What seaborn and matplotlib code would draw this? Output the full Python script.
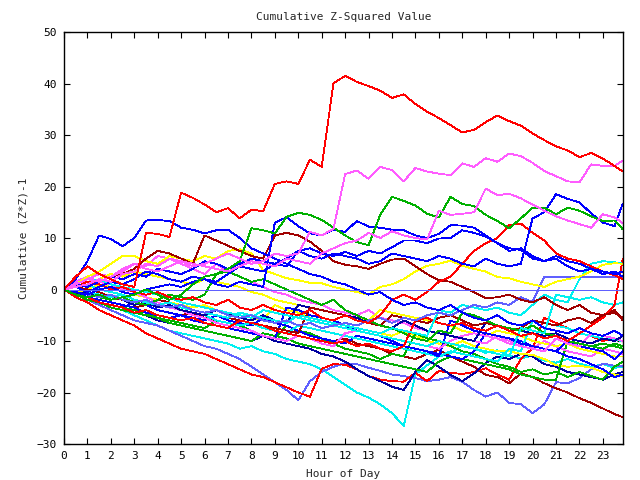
import numpy as np
import pandas as pd
import matplotlib
matplotlib.use("Agg")
import matplotlib.pyplot as plt
import seaborn as sns

# sampling grid (hours), half-hour steps up to the end of the day
hours = list(np.arange(0, 23.51, 0.5)) + [23.85]

red_big = [0, 2.5, 4.5, 3, 2, 1, 0.5, 11, 10.8, 10.2,
           18.8, 17.8, 16.5, 15, 15.8, 13.8, 15.5, 15.2, 20.5, 21,
           20.5, 25.2, 23.8, 40, 41.5, 40.3, 39.5, 38.6, 37.2, 37.9,
           36, 34.5, 33.3, 31.9, 30.5, 31, 32.5, 33.8, 32.7, 31.8,
           30.3, 29, 27.8, 27, 25.7, 26.5, 25.4, 24, 22.9]
magenta_top = [0, 0.5, 1, 2, 1.5, 3, 3.5, 5, 4.5, 6,
               5.5, 4.5, 5, 6, 7, 6, 5, 5.5, 7, 6.5,
               7, 11.2, 10.5, 11.8, 22.4, 23.1, 21.5, 23.8, 23.2, 21,
               23.6, 22.9, 22.5, 22.2, 24.5, 23.8, 25.5, 24.8, 26.4, 25.9,
               24.6, 23, 22, 21, 20.8, 24.3, 24, 24, 25]
magenta_mid = [0, 1, 2, 1.5, 2.5, 3.5, 5, 4, 3.5, 4.5,
               5.5, 5, 4.5, 4, 3.5, 4.5, 5.5, 5, 4.5, 6,
               5.5, 5, 7, 8, 9, 9.5, 11, 10, 11.3, 10.5,
               10, 9.7, 15.3, 14.5, 14.7, 15, 19.6, 18.3, 18.6, 17.7,
               16.5, 15.3, 14.2, 13.4, 12.7, 12, 14.6, 14, 12.9]
green_top = [0, -1, -1.5, -1, -2, -1.5, -1, 0, -1, -2,
             -1, 1, 2.5, 3, 4, 5.5, 11.9, 11.5, 10.9, 14.1,
             14.9, 14.5, 13.5, 12, 10.5, 9.2, 8.6, 14.5, 18, 17.2,
             16.3, 14.7, 14, 18, 16.6, 16.2, 14.5, 13.3, 11.9, 13.8,
             15.9, 15.9, 14.6, 15.9, 15.3, 14.2, 13.3, 13.4, 11.7]
blue_early = [0, 2, 5.5, 10.5, 9.8, 8.4, 10, 13.4, 13.5, 13.3,
              12, 11.6, 10.9, 11.5, 11.6, 10, 8, 7, 6, 5,
              4, 3, 2.5, 1.5, 1, 0, -1, -0.5, -2, -3,
              -2.5, -3.5, -4, -3, -4.5, -5.5, -6, -5, -6.5, -7,
              -6, -7.5, -8, -8.5, -7.5, -8.5, -9, -8, -9]
blue_noon = [0, -0.5, -1, 0, 0.5, -0.5, -1, 0, 0.5, 1,
             0.5, 1.5, 2, 1, 0.5, 1.5, 1, 0.5, 13, 14,
             12.3, 10.9, 10.5, 11.6, 11.2, 13.3, 12.2, 12, 11.6, 11.5,
             10.5, 10, 10.8, 12.5, 12.4, 12, 10.5, 9, 7.5, 8,
             6.5, 5.5, 6, 4.5, 3.5, 4, 3, 3.5, 2.5]
blue_late = [0, 1, 0.5, 1.5, 2.5, 2, 3, 2.5, 4, 3.5,
             3, 4, 5.5, 5, 4, 5, 6, 5.5, 5, 6,
             7.5, 6.5, 6, 7, 6.5, 6, 5, 5.5, 7, 6.5,
             6, 5.5, 6.5, 6, 5, 4.5, 6, 5, 4.5, 5,
             13.8, 15, 18.5, 17.6, 16.9, 14.8, 13, 12.3, 16.7]
darkred_up = [0, 1, 2, 1.5, 2.5, 3, 4, 6, 7.5, 7,
              6, 5, 10.5, 9.5, 8.5, 7.5, 6.5, 6, 10.5, 11,
              10.5, 9.3, 7.5, 5.5, 4.8, 4.5, 4, 5, 5.8, 6,
              4.5, 3, 1.8, 1.5, 0.5, -0.5, -1.7, -1.5, -1, -2,
              -2.5, -1.5, -3, -4, -3, -4.5, -5, -4.5, -5.5]
yellow_up = [0, 1, 2.5, 3.5, 5, 6.5, 6.5, 5.5, 5, 6.5,
             6, 5.5, 6.5, 6, 7.5, 7.8, 7, 3.8, 3, 2.2,
             1.8, 1.3, 1.2, 0.5, 0, -0.5, -1, 0.5, 1, 2,
             3.5, 4.6, 5, 5.6, 4.6, 4, 3.5, 2.4, 2.2, 1.5,
             1, 0.5, 1.5, 2, 2.5, 3.5, 4.8, 5.1, 5]
slate_flat = [0, 0, 0, 0, 0, 0, 0, 0, 0, 0,
              0, 0, 0, 0, 0, 0, 0, 0, 0, 0,
              0, 0, 0, 0, 0, 0, 0, 0, 0, 0,
              0, 0, 0, 0, 0, 0, 0, 0, 0, 0,
              0, 0, 0, 0, 0, 0, 0, 0, 0]
slate_step = [0, -0.5, -1, -1.5, -1, -2, -2.5, -2, -3, -3.5,
              -3, -4, -4.5, -4, -5, -5.5, -5, -6, -6.5, -6,
              -7, -6.5, -7.5, -7, -6.5, -7, -6, -5.5, -6.5, -5.5,
              -6, -5, -4.5, -5, -4, -3, -3.5, -2.5, -3, -1.5,
              -2.4, 2.5, 2.5, 2.5, 2.5, 2.5, 2.5, 2.5, 2.5]
cyan_low = [0, -1, -2, -2.5, -3.5, -4, -5, -6, -7, -8,
            -8.5, -9, -9.5, -10, -10.5, -11.5, -11, -12, -12.5, -13.5,
            -14, -14.5, -15.5, -17, -18.5, -20, -21, -22.3, -24, -26.5,
            -16.5, -14.7, -13, -12.4, -10.8, -11.5, -12.3, -11.8, -12.8, -13.4,
            -12.8, -13.8, -14.2, -13.5, -14.4, -15, -14.5, -15.2, -15]
slate_low = [0, -1, -2, -3, -4, -5, -6, -6.5, -7, -8,
             -9, -10, -11, -11.5, -12.5, -13.5, -15, -16.5, -18, -19.5,
             -21.5, -17.8, -16, -15, -14.3, -14.5, -15.2, -15.8, -16.5, -16.8,
             -17.2, -17.8, -17.5, -17, -17.9, -19.5, -20.8, -20, -22, -22.3,
             -24, -22.3, -18, -18.2, -17.2, -15.5, -14.4, -14.8, -14.9]
darkred_low = [0, -0.5, -1.5, -2, -2.5, -3, -3.5, -3, -4, -4.5,
               -5, -4.5, -5.5, -6, -6.5, -7, -6.5, -7.5, -8, -8.5,
               -8, -9, -9.5, -10, -9.5, -10.5, -11, -11.5, -12.5, -13,
               -13.5, -12.5, -11.7, -13, -14, -15, -16.6, -17, -18.2, -16.3,
               -17, -18.2, -19.2, -20, -21.1, -22, -23.1, -24.2, -24.8]
red_low = [0, -1.5, -2.5, -4, -5, -6, -7, -8.5, -9.5, -10.5,
           -11.5, -12, -12.5, -13.5, -14.5, -15.5, -16.5, -17, -18, -19,
           -20, -20.8, -15.4, -14.5, -14.6, -15.5, -16.8, -17.5, -17.8, -17.9,
           -16.2, -17.8, -15.8, -16.2, -16.4, -16, -15.3, -16.5, -17.5, -13.5,
           -11.4, -5.5, -6.5, -7.5, -8.5, -9, -10, -9.5, -10]
red_endjump = [0, -1, -1.5, -2.5, -3, -3.5, -4.5, -4, -5, -5.5,
               -6, -5.5, -6.5, -7, -7.5, -6, -6.5, -7, -8, -8.5,
               -9, -9.5, -10, -10.5, -10, -11, -10.5, -11.5, -12, -11,
               -6, -5.5, -6.5, -7, -6.5, -7.5, -8, -7, -8, -9,
               -8.5, -9.5, -9, -10, -8.5, -7, -5.5, -3, 6]
red_evening = [0, 0.5, 1.5, 1, 0, 0.5, -0.5, -1, -0.5, -1.5,
               -2, -1.5, -2.5, -3, -2, -3.5, -4, -3, -4, -4.5,
               -5, -4, -5.5, -6, -5, -6, -6.5, -5, -2, -1,
               -2, -0.5, 1.5, 2.5, 5, 7.5, 9, 10, 12.5, 12.8,
               11, 9.5, 7, 6, 5.5, 4.5, 3.5, 2.8, 2]
blue_mid = [0, 0.5, -0.5, 0.5, 1.5, 1, 2, 3.5, 3, 2,
            1.5, 2.5, 2, 1.5, 3, 4.5, 4, 3.5, 5, 4.5,
            7.5, 8, 7, 6.5, 7.3, 6.5, 7.5, 7, 8.2, 9.5,
            9.5, 9, 9.9, 10, 11.5, 11, 10.3, 9, 8, 7.7,
            6, 5.5, 6.5, 5.5, 5, 4, 3.5, 3, 3.5]
green_low = [0, -1, -1.5, -2.5, -3, -3.5, -4, -4.5, -5.5, -6,
             -6.5, -7, -7.5, -6, -6.5, -7, -8, -9, -9.5, -7,
             -8, -8.5, -9.5, -10.5, -11.5, -12, -12.5, -13.5, -12.5, -13,
             -8.5, -9.5, -10, -11, -12, -12.5, -13.5, -14.5, -15, -16,
             -15.5, -16.5, -16, -17, -16, -16.8, -17.5, -15, -14]
green_mid = [0, -0.5, -1, -1.5, -2, -1.5, -2.5, -3, -2, -1,
             -1.5, -2, -1, 3, 3.5, 2.5, 1.5, 2, 1, 0,
             -1, -2, -3, -2, -4, -5, -6, -7, -7.5, -8.5,
             -9.5, -10, -8, -8.5, -4.5, -5, -6, -7, -7.5, -8,
             -7, -8.5, -9, -10, -10.5, -11, -11.5, -10.5, -11]
cyan_mid = [0, 0.5, 1, 0, -0.5, -1, -2, -2.5, -3, -3.5,
            -4, -4.5, -5, -6, -6.5, -7, -6.5, -7.5, -8, -8.5,
            -7, -7.5, -8, -8.5, -9, -9.5, -10, -10.5, -11, -11.5,
            -12, -12.5, -13, -12, -12.5, -13, -13.5, -14, -11.5, -12,
            -6, -6.5, -7, -7.5, -8.5, -9, -9.5, -9.8, -10]
cyan_up = [0, 0.5, -0.5, -1, -1.5, -1, -2, -2.5, -3, -2.5,
           -3.5, -4, -4.5, -5, -5.5, -4.5, -5, -5.5, -6, -6.5,
           -5, -5.5, -6, -6.5, -7, -7.5, -8, -8.5, -7.5, -8,
           -8.5, -9, -4, -4.5, -3, -3.5, -4, -3.5, -4.5, -5,
           -3, -1, -2, -2.5, 2, 5, 5.5, 5.3, 5]
magenta_low = [0, 1.5, 2.5, 1.5, 1, 0, -0.5, -1.5, -2.5, -3.5,
               -4, -5, -5.5, -6.5, -7, -7.5, -8, -9, -9.5, -10,
               -9, -9.5, -10.5, -11, -8.5, -8, -8.5, -9, -9.5, -10,
               -10.5, -11, -11.5, -10, -9, -8.5, -9, -9.5, -10.5, -11,
               -11.5, -12, -9.5, -10.5, -11, -8.5, -9, -9.5, -10]
navy_low = [0, -1, -2, -2.5, -3.5, -4, -4.5, -5, -6, -6.5,
            -7, -7.5, -8, -8.5, -9, -9.5, -10, -9, -10, -10.5,
            -11, -11.5, -12.5, -13, -14, -15.5, -16.8, -17.8, -18.9, -19.5,
            -16, -13.7, -15, -16.6, -17.8, -16.3, -14.3, -13, -13.5, -12.5,
            -13, -14.5, -15, -16, -16.5, -17, -17.5, -16.5, -16]
yellow_low = [0, -0.5, 0, 1, 0.5, -0.5, -1, -1.5, -2, -2.5,
              -3, -3.5, -3, -4, -4.5, -5, -5.5, -6, -3, -4,
              -4.5, -5.5, -6, -6.5, -7, -7.5, -8, -8.5, -9, -8,
              -9, -10, -10.5, -11, -10, -11, -11.5, -12, -12, -12.5,
              -12.7, -13.5, -14.7, -15, -14.8, -15.2, -16, -16.5, -16.9]
magenta_early = [0, 1, 2, 3, 2.5, 4, 5, 4.5, 6.5, 6,
                 5, 4, 3, 5, 3.5, 2.5, 1.5, 0.5, -0.5, -1,
                 -2, -2.5, -3, -4, -4.5, -5, -4, -5.5, -6, -6.5,
                 -7.5, -8, -8.5, -9, -9.5, -10, -10.5, -9, -10, -11,
                 -11.5, -10, -11, -12, -12.5, -13, -11.5, -12, -12.5]
blue_low = [0, -0.5, -1.5, -2.5, -3, -3.5, -2.5, -3, -4, -4.5,
            -5, -5.5, -6, -5, -6, -6.5, -7, -5.5, -6.5, -7,
            -8, -9, -9.5, -10, -10.5, -9, -9.5, -10, -10.5, -11,
            -11.5, -12, -12.5, -13, -13.5, -12, -8.5, -9, -9.5, -10,
            -11, -11.5, -12, -13, -13.5, -14.5, -15.5, -17, -16.5]
navy_mid = [0, -1, -0.5, -1.5, -1, -2, -3, -2.5, -3.5, -3,
            -4, -4.5, -5, -4, -4.5, -5.5, -6, -5, -6, -6.5,
            -3, -3.5, -4, -4.5, -5, -5.5, -6.5, -7, -7.5, -6,
            -7, -8, -8.5, -9, -9.5, -10, -6.5, -7, -7.5, -8,
            -8.5, -9, -8.5, -9.5, -10, -10.5, -9.5, -10, -9]
darkred_mid = [0, 0.5, 0, -0.5, -1.5, -2, -2.5, -3, -2, -2.5,
               -3.5, -4, -4.5, -5, -5.5, -6, -6.5, -7, -7.5, -8,
               -8.5, -3.5, -4, -4.5, -5, -6, -6.5, -7, -5, -5.5,
               -6, -6.5, -5.5, -5, -6, -7, -6.5, -7, -8, -7.5,
               -6, -6.5, -7, -6, -5.5, -6.5, -5, -4, -6]
green_lower = [0, -1, -2, -2.5, -3.5, -4, -4.5, -5, -5.5, -6.5,
               -7, -7.5, -8, -8.5, -9, -9.5, -10, -8.5, -9, -9.5,
               -10.5, -11, -11.5, -12, -12.5, -13, -13.5, -14, -14.5, -15,
               -15.5, -16, -14, -13, -13.5, -14, -14.5, -15, -15.5, -16.5,
               -17, -17.5, -17.5, -10, -10.5, -11, -10.5, -11, -11.5]
cyan_jump = [0, 0.5, 1.5, 2, 1, 0.5, 0, -0.5, -1, -1.5,
             -2.5, -3, -3.5, -4, -4.5, -5, -5.5, -4, -4.5, -5,
             -5.5, -6, -6.5, -7, -7.5, -8, -8.5, -9, -9.5, -10,
             -10.5, -11, -10, -10.5, -11, -11.5, -12, -12.5, -13, -7.5,
             -8, -8.5, -1, -1.5, -2, -1.5, -2.5, -3, -2.5]
yellow_mid = [0, 0.5, 1, 2, 3, 2.5, 3.5, 3, 2.5, 2,
              1.5, 1, 2, 1.5, 1, 0.5, -0.5, -1, -2, -2.5,
              -3, -3.5, -4, -4.5, -5, -5.5, -6, -4, -4.5, -5,
              -5.5, -6, -6.5, -7, -8, -8.5, -9, -8, -8.5, -9,
              -10, -10.5, -11, -10.5, -11.5, -12, -12.5, -13, -13]
blue_lower = [0, -1, -1.5, -2, -2.5, -3, -3.5, -4.5, -5, -5.5,
              -5, -6, -6.5, -7, -7.5, -8, -8.5, -9, -9.5, -3.5,
              -4, -5, -5.5, -6, -7, -8, -8.5, -9, -10, -11,
              -11.5, -12, -13, -6, -7, -8, -8.5, -9, -9.5, -10.5,
              -11, -11.5, -12, -10, -11, -11.5, -12, -13.5, -12]

RED, GREEN, BLUE = "#ff0000", "#00b000", "#0000ff"
MAGENTA, CYAN, YELLOW = "#ff5cff", "#00f0f0", "#ffff00"
DARKRED, SLATE, NAVY = "#a00000", "#6060ff", "#0000a0"

series = [
    ("cyan_low", cyan_low, CYAN), ("slate_low", slate_low, SLATE),
    ("darkred_low", darkred_low, DARKRED), ("red_low", red_low, RED),
    ("navy_low", navy_low, NAVY), ("yellow_low", yellow_low, YELLOW),
    ("green_low", green_low, GREEN), ("green_lower", green_lower, GREEN),
    ("blue_low", blue_low, BLUE), ("magenta_early", magenta_early, MAGENTA),
    ("yellow_mid", yellow_mid, YELLOW), ("cyan_mid", cyan_mid, CYAN),
    ("blue_lower", blue_lower, BLUE), ("magenta_low", magenta_low, MAGENTA),
    ("navy_mid", navy_mid, NAVY), ("darkred_mid", darkred_mid, DARKRED),
    ("green_mid", green_mid, GREEN), ("cyan_jump", cyan_jump, CYAN),
    ("red_endjump", red_endjump, RED), ("cyan_up", cyan_up, CYAN),
    ("slate_step", slate_step, SLATE), ("yellow_up", yellow_up, YELLOW),
    ("darkred_up", darkred_up, DARKRED), ("red_evening", red_evening, RED),
    ("blue_mid", blue_mid, BLUE), ("blue_early", blue_early, BLUE),
    ("blue_noon", blue_noon, BLUE), ("blue_late", blue_late, BLUE),
    ("slate_flat", slate_flat, SLATE), ("green_top", green_top, GREEN),
    ("magenta_mid", magenta_mid, MAGENTA), ("magenta_top", magenta_top, MAGENTA),
    ("red_big", red_big, RED),
]

frames = []
for name, vals, _ in series:
    frames.append(pd.DataFrame({"hour": hours, "value": vals, "series": name}))
df = pd.concat(frames, ignore_index=True)
palette = {name: col for name, _, col in series}
order = [name for name, _, _ in series]

sns.set_style("ticks")
plt.rcParams["font.family"] = ["DejaVu Sans Mono"]

fig = plt.figure(figsize=(6.4, 4.8), dpi=100)
ax = fig.add_axes([64 / 640, 1 - 444 / 480, (623 - 64) / 640, (444 - 32) / 480])
sns.lineplot(data=df, x="hour", y="value", hue="series", hue_order=order,
             palette=palette, estimator=None, sort=False, legend=False,
             linewidth=0.6, antialiased=False, ax=ax)

ax.set_xlim(0, 23.86)
ax.set_ylim(-30, 50)
ax.set_xticks(range(0, 24))
ax.set_yticks(range(-30, 51, 10))
ax.tick_params(direction="in", length=4.5, width=0.8, top=True, right=True,
               labelsize=8, colors="black", pad=5)
for sp in ax.spines.values():
    sp.set_visible(True)
    sp.set_linewidth(1.0)
    sp.set_color("black")
ax.set_facecolor("white")
ax.set_title("Cumulative Z-Squared Value", fontsize=8, pad=9)
ax.set_xlabel("Hour of Day", fontsize=8, labelpad=6)
ax.set_ylabel("Cumulative (Z*Z)-1", fontsize=8, labelpad=6)

fig.savefig("out.png", dpi=100, facecolor="white")
